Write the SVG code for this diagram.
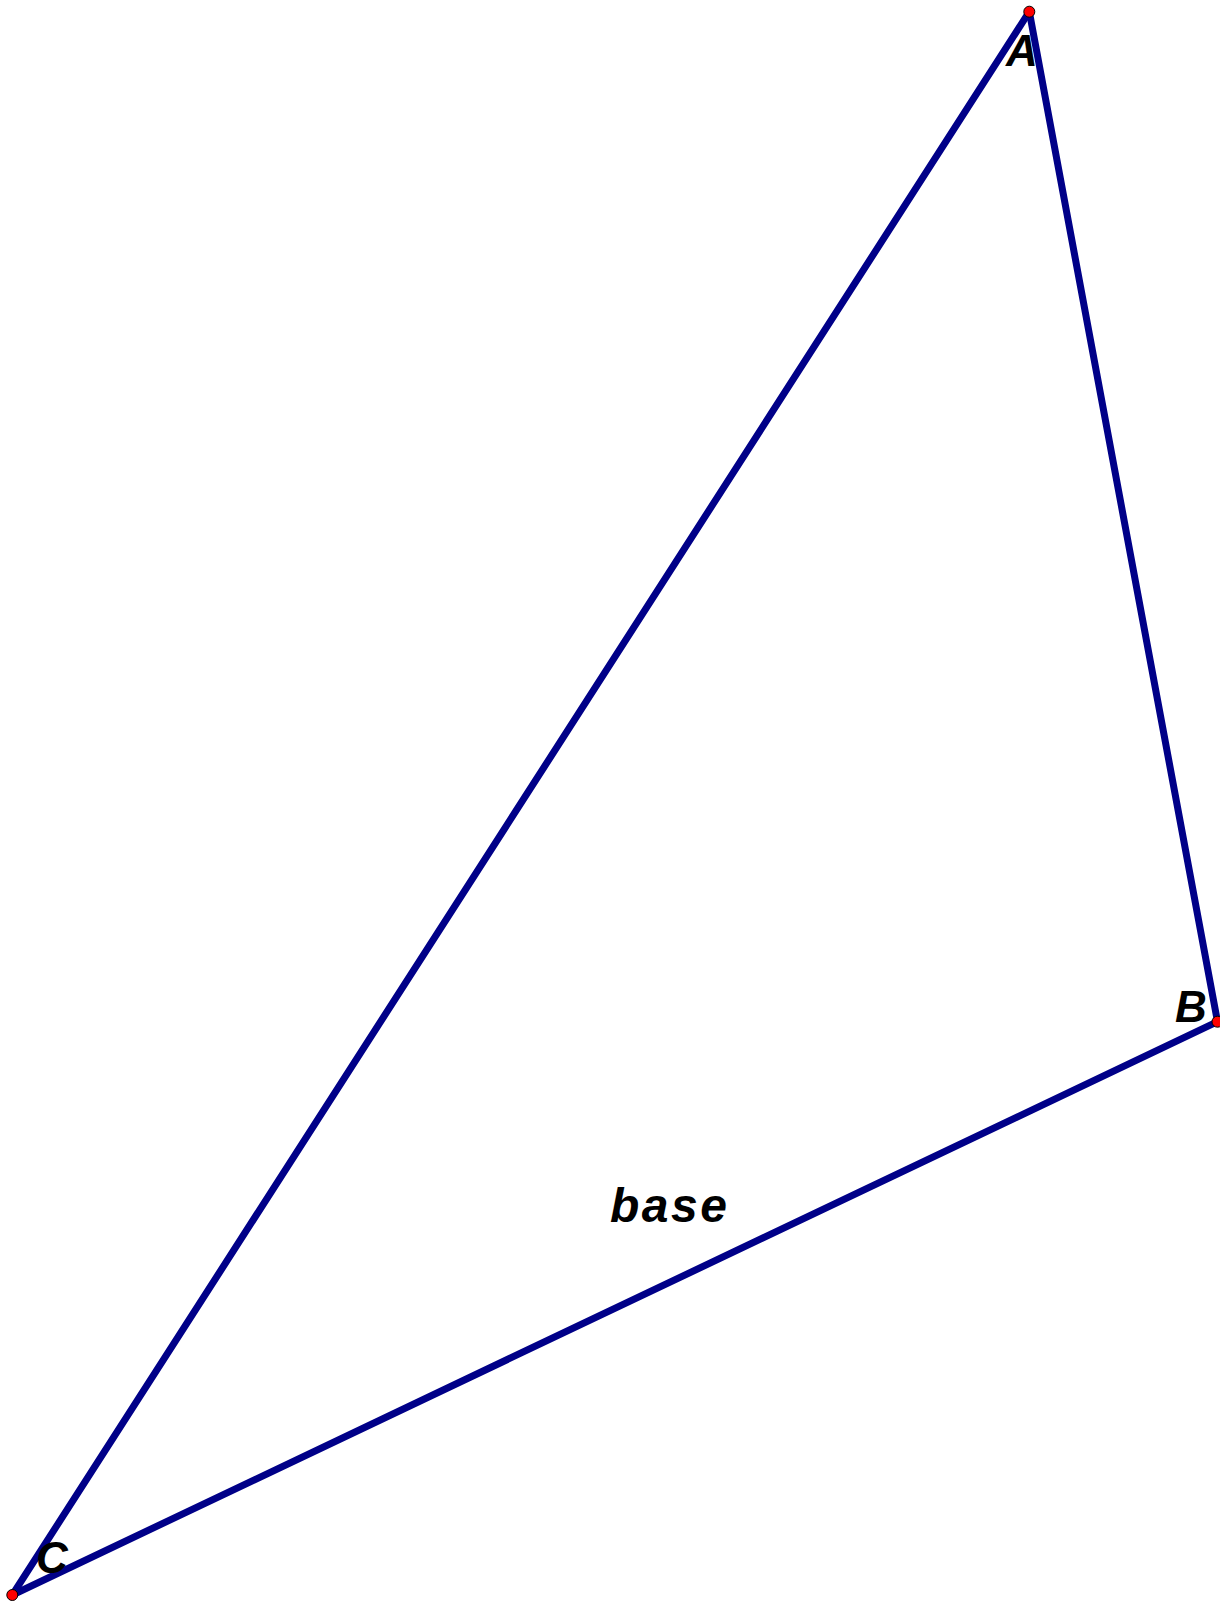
<svg xmlns="http://www.w3.org/2000/svg" width="1220" height="1602" viewBox="0 0 1220 1602">
<style>
.edge{stroke:#000088;stroke-width:7;fill:none;stroke-linecap:round}
.pt{fill:#ff0000;stroke:#000000;stroke-width:1}
.lbl{font-family:"Liberation Sans",Arial,sans-serif;font-weight:bold;font-style:italic;fill:#000000}
</style>
<rect width="1220" height="1602" fill="#ffffff"/>
<g id="connectors">
<line class="edge" x1="1029.3" y1="11.7" x2="1217.5" y2="1021.7"/>
<line class="edge" x1="1217.5" y1="1021.7" x2="12.3" y2="1595"/>
<line class="edge" x1="12.3" y1="1595" x2="1029.3" y2="11.7"/>
</g>
<g id="nodeA">
<circle class="pt" cx="1029.3" cy="11.7" r="5.5"/>
<text class="lbl" x="1006" y="66" font-size="44">A</text>
</g>
<g id="nodeB">
<circle class="pt" cx="1217.5" cy="1021.7" r="5.5"/>
<text class="lbl" x="1175" y="1022" font-size="44">B</text>
</g>
<g id="nodeC">
<circle class="pt" cx="12.3" cy="1595" r="5.5"/>
<text class="lbl" x="36" y="1573" font-size="44">C</text>
</g>
<g id="label-base">
<text class="lbl" x="610" y="1222" font-size="48" letter-spacing="2.5">base</text>
</g>
</svg>
